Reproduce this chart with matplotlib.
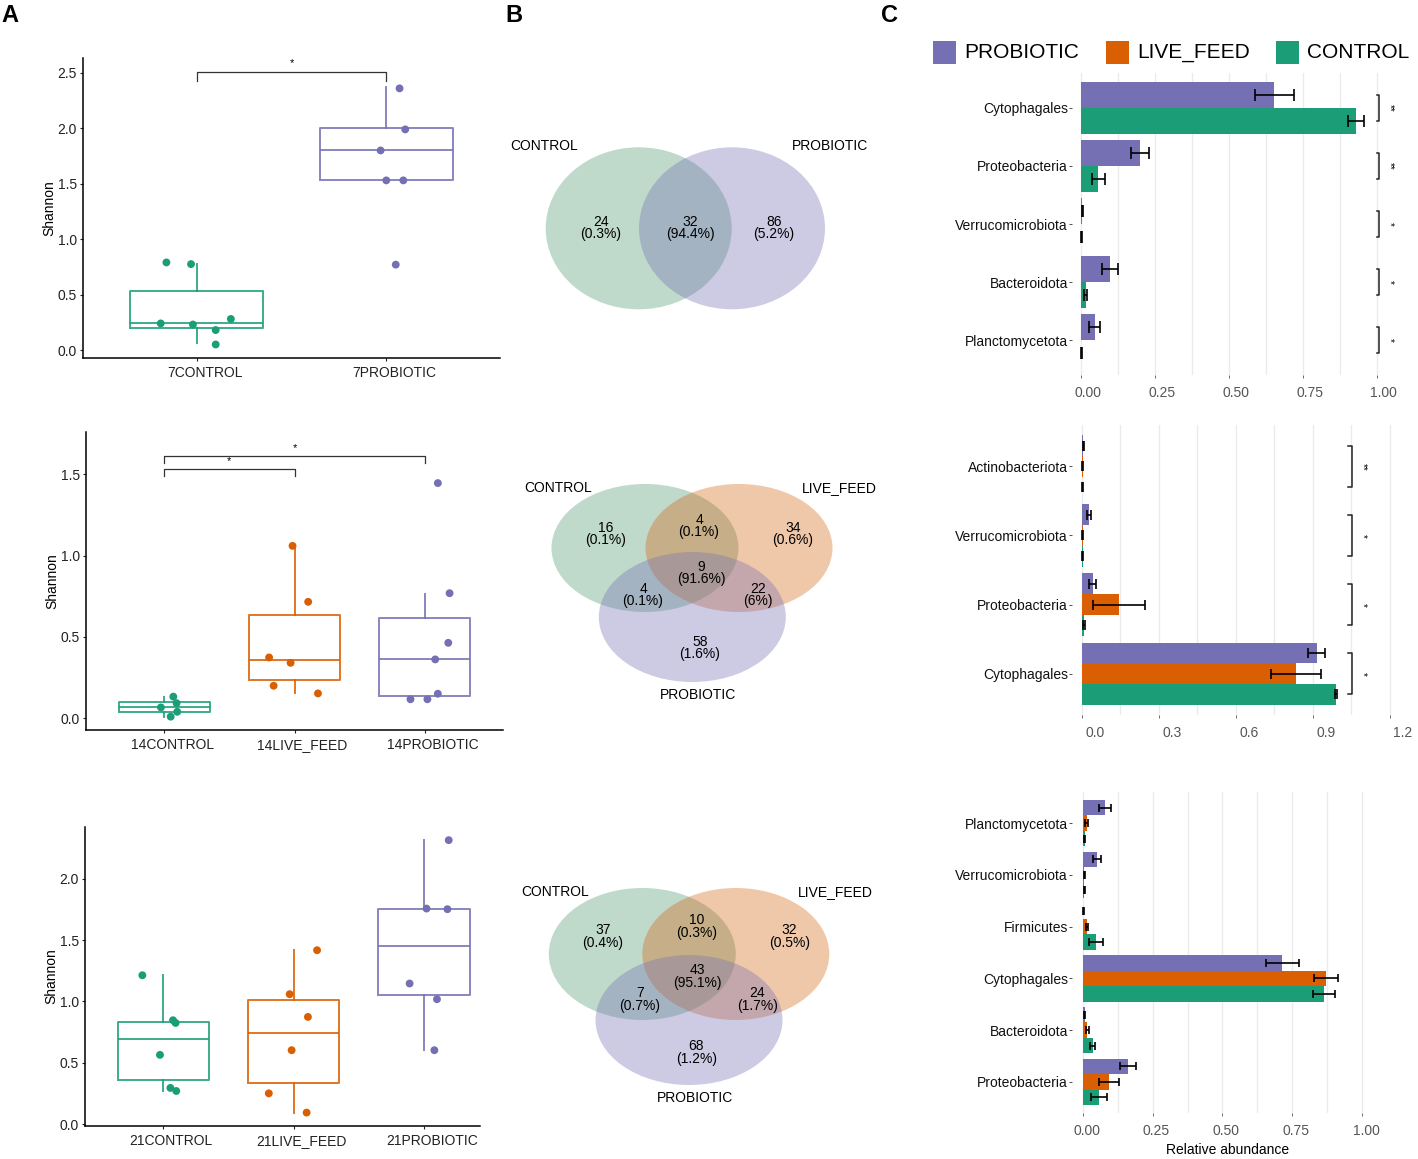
''' shannon diversity, venn overlaps and relative abundance by treatment
'''
import matplotlib
matplotlib.use('Agg')
from matplotlib import pyplot as plt
from matplotlib.patches import Ellipse, Rectangle
from matplotlib.ticker import MultipleLocator
from matplotlib.transforms import ScaledTranslation

plt.rcParams['font.family'] = ['Liberation Sans', 'DejaVu Sans']

GREEN = '#1b9e77'
ORANGE = '#d95f02'
PURPLE = '#7570b3'
# softer fills used by the venn diagrams (drawn at alpha 0.36)
V_GREEN = '#509871'
V_ORANGE = '#d56613'
V_PURPLE = '#7570b3'
W, H = 1418, 1159

# ---- A: Shannon boxplots (q1, median, q3, whisker low, whisker high) ----
a1_groups = ['7CONTROL', '7PROBIOTIC']
a1_box = [(0.20, 0.24, 0.53, 0.06, 0.78), (1.53, 1.80, 2.00, 1.53, 2.37)]
a1_points = [[0.79, 0.775, 0.24, 0.23, 0.28, 0.18, 0.05],
             [2.36, 1.99, 1.80, 1.53, 1.53, 0.77]]
a1_jitter = [[-0.16, -0.03, -0.19, -0.02, 0.18, 0.10, 0.10],
             [0.07, 0.10, -0.03, 0.0, 0.09, 0.05]]
a1_sig = [(0, 1, '*', 2.51)]

a2_groups = ['14CONTROL', '14LIVE_FEED', '14PROBIOTIC']
a2_box = [(0.037, 0.067, 0.098, 0.01, 0.133), (0.237, 0.36, 0.632, 0.153, 1.058),
          (0.135, 0.364, 0.616, 0.135, 0.767)]
a2_points = [[0.133, 0.093, 0.067, 0.04, 0.01],
             [1.06, 0.716, 0.374, 0.341, 0.20, 0.153],
             [1.446, 0.769, 0.464, 0.362, 0.151, 0.117, 0.117]]
a2_jitter = [[0.07, 0.095, -0.025, 0.10, 0.05],
             [-0.015, 0.105, -0.195, -0.03, -0.16, 0.18],
             [0.10, 0.19, 0.18, 0.08, 0.10, -0.11, 0.02]]
a2_sig = [(0, 2, '*', 1.612), (0, 1, '*', 1.535)]

a3_groups = ['21CONTROL', '21LIVE_FEED', '21PROBIOTIC']
a3_box = [(0.364, 0.692, 0.836, 0.271, 1.213), (0.34, 0.739, 1.01, 0.095, 1.417),
          (1.05, 1.45, 1.756, 0.603, 2.313)]
a3_points = [[1.213, 0.847, 0.825, 0.565, 0.296, 0.271],
             [1.417, 1.059, 0.874, 0.603, 0.252, 0.095],
             [2.313, 1.756, 1.751, 1.146, 1.018, 0.603]]
a3_jitter = [[-0.16, 0.075, 0.095, -0.025, 0.055, 0.10],
             [0.18, -0.03, 0.11, -0.015, -0.19, 0.10],
             [0.19, 0.02, 0.18, -0.11, 0.10, 0.08]]
a3_sig = []

# ---- B: shared ASVs ----
b1_sets = ['CONTROL', 'PROBIOTIC']
b1_counts = ['24', '32', '86']
b1_pct = ['0.3%', '94.4%', '5.2%']
b2_sets = ['CONTROL', 'LIVE_FEED', 'PROBIOTIC']
b2_counts = ['16', '4', '34', '9', '4', '22', '58']
b2_pct = ['0.1%', '0.1%', '0.6%', '91.6%', '0.1%', '6%', '1.6%']
b3_sets = ['CONTROL', 'LIVE_FEED', 'PROBIOTIC']
b3_counts = ['37', '10', '32', '43', '7', '24', '68']
b3_pct = ['0.4%', '0.3%', '0.5%', '95.1%', '0.7%', '1.7%', '1.2%']

# ---- C: relative abundance (mean, sd) ----
c1_taxa = ['Cytophagales', 'Proteobacteria', 'Verrucomicrobiota', 'Bacteroidota', 'Planctomycetota']
c1_prob = [0.654, 0.200, 0.005, 0.098, 0.047]
c1_prob_sd = [0.066, 0.030, 0.002, 0.027, 0.018]
c1_ctrl = [0.930, 0.059, 0.002, 0.016, 0.002]
c1_ctrl_sd = [0.027, 0.023, 0.001, 0.005, 0.001]
c1_sig = ['**', '**', '*', '*', '*']

c2_taxa = ['Actinobacteriota', 'Verrucomicrobiota', 'Proteobacteria', 'Cytophagales']
c2_prob = [0.006, 0.028, 0.043, 0.915]
c2_prob_sd = [0.002, 0.009, 0.013, 0.034]
c2_live = [0.004, 0.004, 0.145, 0.835]
c2_live_sd = [0.001, 0.001, 0.100, 0.099]
c2_ctrl = [0.003, 0.004, 0.009, 0.991]
c2_ctrl_sd = [0.001, 0.001, 0.003, 0.005]
c2_sig = ['**', '*', '*', '*']

c3_taxa = ['Planctomycetota', 'Verrucomicrobiota', 'Firmicutes', 'Cytophagales',
           'Bacteroidota', 'Proteobacteria']
c3_prob = [0.080, 0.052, 0.003, 0.714, 0.007, 0.161]
c3_prob_sd = [0.022, 0.015, 0.001, 0.060, 0.002, 0.029]
c3_live = [0.014, 0.006, 0.015, 0.870, 0.017, 0.095]
c3_live_sd = [0.004, 0.002, 0.004, 0.044, 0.004, 0.035]
c3_ctrl = [0.007, 0.006, 0.047, 0.864, 0.036, 0.058]
c3_ctrl_sd = [0.003, 0.002, 0.025, 0.039, 0.010, 0.028]


def rect(l, t, r, b):
  # pixel box -> figure fraction
  return [l / W, 1 - b / H, (r - l) / W, (b - t) / H]


def shift_xlabels(ax, dx):
  # nudge x tick labels right by dx pixels
  off = ScaledTranslation(dx / 100, 0, ax.figure.dpi_scale_trans)
  for lab in ax.get_xticklabels():
    lab.set_transform(lab.get_transform() + off)


def group_color(name):
  if 'CONTROL' in name:
    return GREEN
  if 'LIVE' in name:
    return ORANGE
  return PURPLE


def shannon(ax, groups, boxes, points, jitter, sig, ylim, ymax, xright, drop):
  for i, g in enumerate(groups):
    c = group_color(g)
    q1, med, q3, lo, hi = boxes[i]
    st = [dict(q1=q1, med=med, q3=q3, whislo=lo, whishi=hi, fliers=[])]
    lp = dict(color=c, linewidth=1.4, alpha=0.85)
    ax.bxp(st, positions=[i], widths=0.7, showfliers=False, showcaps=False,
           boxprops=lp, medianprops=lp, whiskerprops=lp)
    xs = [i + j for j in jitter[i]]
    ax.scatter(xs, points[i], s=32, color=c, edgecolors='none', zorder=3)
  for a, b, lab, y in sig:
    ax.plot([a, a, b, b], [y - drop, y, y, y - drop], color='#333333', lw=0.9)
    ax.text((a + b) / 2, y + drop * 0.4, lab, ha='center', va='bottom', fontsize=8)
  ax.set_xlim(-0.6, xright)
  ax.set_ylim(*ylim)
  ax.set_yticks([t * 0.5 for t in range(int(ymax / 0.5) + 1)])
  ax.set_xticks(range(len(groups)))
  ax.set_xticklabels(groups)
  ax.set_ylabel('Shannon', fontsize=10, labelpad=1)
  for s in ['top', 'right']:
    ax.spines[s].set_visible(False)
  for s in ['left', 'bottom']:
    ax.spines[s].set_linewidth(1.1)
  ax.tick_params(labelsize=10, length=2.5, width=0.8, colors='#222222', pad=2)
  ax.tick_params(axis='x', pad=3)
  shift_xlabels(ax, 8)


def venn(ax, ellipses, cols, sets, set_pos, counts, pct, num_pos):
  for (cx, cy, w, h), c in zip(ellipses, cols):
    ax.add_patch(Ellipse((cx, cy), w, h, facecolor=c, alpha=0.36, edgecolor='none'))
  for s, (x, y) in zip(sets, set_pos):
    ax.text(x, y, s, ha='center', va='center', fontsize=10)
  for n, p, (x, y) in zip(counts, pct, num_pos):
    ax.text(x, y, n + '\n(' + p + ')', ha='center', va='center', fontsize=10,
            linespacing=0.9)


def abundance(ax, taxa, series, sig, xlim, step, capsize, brx, tick, starx, dx):
  n = len(taxa)
  k = len(series)
  h = 0.9 / k
  for j, (vals, sd, c) in enumerate(series):
    ys = [i - 0.45 + h * (j + 0.5) for i in range(n)]
    ax.barh(ys, vals, height=h, color=c, zorder=2)
    ax.errorbar(vals, ys, xerr=sd, fmt='none', ecolor='black', elinewidth=1.2,
                capsize=capsize, capthick=1.2, zorder=3)
  top = -0.45 + h * 0.5
  bot = 0.45 - h * 0.5
  for i, lab in enumerate(sig):
    ax.plot([brx - tick, brx, brx, brx - tick], [i + top, i + top, i + bot, i + bot],
            color='#222222', lw=1.1, clip_on=False)
    ax.text(starx, i, lab, rotation=-90, ha='center', va='center', fontsize=7,
            clip_on=False)
  ax.set_xlim(*xlim)
  ax.set_ylim(n - 0.4, -0.6)
  ax.set_yticks(range(n))
  ax.set_yticklabels(taxa)
  nt = int(round(xlim[1] // step)) + 1
  ax.set_xticks([round(t * step, 3) for t in range(nt)])
  ax.xaxis.set_minor_locator(MultipleLocator(step / 2))
  ax.grid(axis='x', which='both', color='#ebebeb', lw=1.0, zorder=0)
  ax.set_axisbelow(True)
  for s in ax.spines.values():
    s.set_visible(False)
  ax.tick_params(axis='y', labelsize=10, length=2, width=0.6, colors='#333333',
                 labelcolor='#111111', pad=1)
  ax.tick_params(axis='x', labelsize=10, length=2, width=0.6, colors='#555555', pad=6)
  ax.tick_params(axis='x', which='minor', length=0)
  shift_xlabels(ax, dx)


fig = plt.figure(figsize=(W / 100, H / 100), dpi=100)

# panel A
ax = fig.add_axes(rect(83, 58, 500, 358))
shannon(ax, a1_groups, a1_box, a1_points, a1_jitter, a1_sig, (-0.072, 2.634), 2.5, 1.6, 0.08)
ax = fig.add_axes(rect(86, 432, 503, 730))
shannon(ax, a2_groups, a2_box, a2_points, a2_jitter, a2_sig, (-0.072, 1.76), 1.5, 2.6, 0.045)
ax = fig.add_axes(rect(85, 827, 480, 1126))
shannon(ax, a3_groups, a3_box, a3_points, a3_jitter, a3_sig, (-0.014, 2.42), 2.0, 2.43, 0.05)

# panel B, axes in pixel units
ax = fig.add_axes(rect(500, 120, 890, 1120))
ax.set_xlim(500, 890)
ax.set_ylim(1120, 120)
ax.axis('off')
venn(ax, [(638.7, 228.3, 186, 162), (732, 228.3, 186, 162)], [V_GREEN, V_PURPLE],
     b1_sets, [(544, 146), (830, 146)], b1_counts, b1_pct,
     [(601, 228), (690, 228), (774, 228)])
venn(ax, [(645, 548, 187, 128), (739, 548, 187, 128), (692.3, 617, 187, 130)],
     [V_GREEN, V_ORANGE, V_PURPLE], b2_sets, [(558, 488), (839, 488), (698, 695)],
     b2_counts, b2_pct,
     [(606, 534), (699, 526), (793, 534), (701, 573), (643, 595), (758, 595), (700, 648)])
venn(ax, [(642.3, 954, 187, 132), (735.8, 954, 187, 132), (689, 1020, 187, 130)],
     [V_GREEN, V_ORANGE, V_PURPLE], b3_sets,
     [(555, 891.7), (835.7, 891.7), (695.5, 1098.3)], b3_counts, b3_pct,
     [(603, 936.7), (696.3, 926.7), (789.7, 936.7), (697.8, 976.3), (639.7, 999.3),
      (757.5, 999.3), (696.3, 1052.2)])

# panel C
ax = fig.add_axes(rect(1072, 73, 1400, 375))
abundance(ax, c1_taxa, [(c1_prob, c1_prob_sd, PURPLE), (c1_ctrl, c1_ctrl_sd, GREEN)],
          c1_sig, (-0.03, 1.079), 0.25, 4.5, 1.008, 0.008, 1.046, 7)
ax = fig.add_axes(rect(1072, 425, 1400, 715))
abundance(ax, c2_taxa, [(c2_prob, c2_prob_sd, PURPLE), (c2_live, c2_live_sd, ORANGE),
                        (c2_ctrl, c2_ctrl_sd, GREEN)],
          c2_sig, (-0.0377, 1.24), 0.3, 3.6, 1.052, 0.013, 1.095, 13)
ax = fig.add_axes(rect(1072, 792, 1376, 1113))
abundance(ax, c3_taxa, [(c3_prob, c3_prob_sd, PURPLE), (c3_live, c3_live_sd, ORANGE),
                        (c3_ctrl, c3_ctrl_sd, GREEN)],
          [], (-0.038, 1.049), 0.25, 2.8, 1.0, 0.0, 1.0, 4)
ax.set_xlabel('Relative abundance', fontsize=10, labelpad=3)
ax.xaxis.set_label_coords((1228 - 1072) / (1376 - 1072), -0.095)

# legend for C
for x0, c, lab in [(933, PURPLE, 'PROBIOTIC'), (1106, ORANGE, 'LIVE_FEED'),
                   (1276, GREEN, 'CONTROL')]:
  fig.add_artist(Rectangle((x0 / W, 1 - 64 / H), 23 / W, 23 / H, transform=fig.transFigure,
                           facecolor=c, edgecolor='none'))
  fig.text((x0 + 31) / W, 1 - 52 / H, lab, ha='left', va='center', fontsize=15)

for x, lab in [(10, 'A'), (514, 'B'), (889, 'C')]:
  fig.text(x / W, 1 - 15 / H, lab, ha='center', va='center', fontsize=17, weight='bold')

fig.savefig('out.png', dpi=100)
